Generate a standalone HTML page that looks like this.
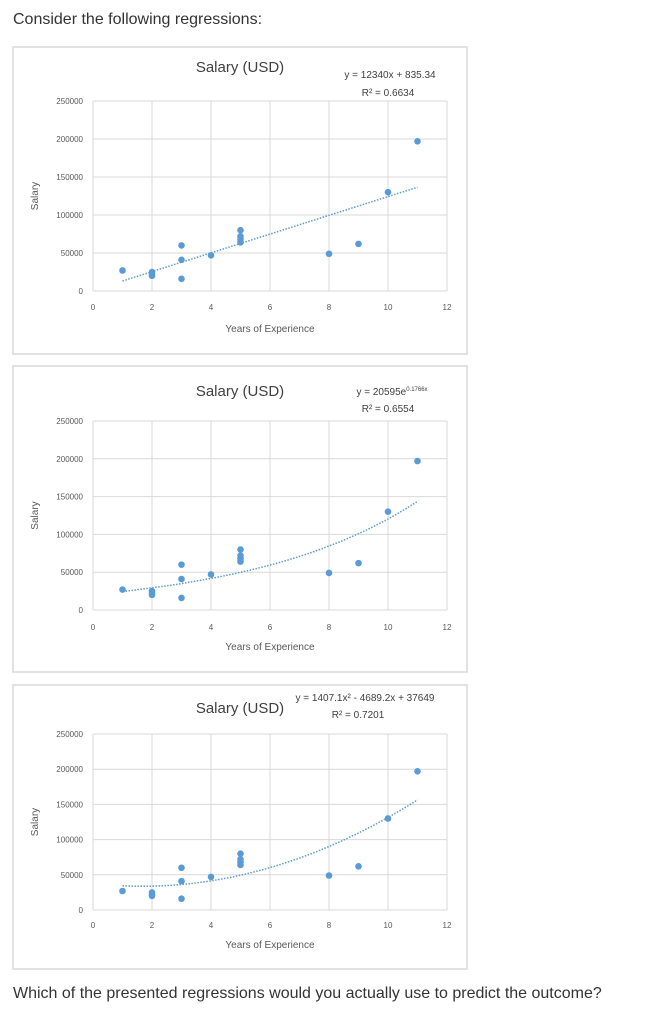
<!DOCTYPE html>
<html><head><meta charset="utf-8"><style>
body{margin:0;width:667px;height:1024px;background:#fff;font-family:"Liberation Sans",sans-serif;position:relative;overflow:hidden}
.q{position:absolute;left:13px;font-size:16px;color:#333}
svg{position:absolute;left:0;top:0}
</style></head><body>
<div class="q" style="top:11px">Consider the following regressions:</div>
<div class="q" style="top:985px">Which of the presented regressions would you actually use to predict the outcome?</div>
<svg id="s" width="667" height="1024"></svg>
<script>
const xs=[1,2,2,2,3,3,3,4,5,5,5,5,8,9,10,11];
const ys=[27000,25000,20000,22000,60000,41000,16000,47000,80000,72000,68000,64000,49000,62000,130000,197000];
const xTicks=[0,2,4,6,8,10,12];
const yTicks=[0,50000,100000,150000,200000,250000];
const linCoef=[12340,835.34];
const expCoef=[20595,0.1766];
const polyCoef=[1407.1,-4689.2,37649];
const charts=[
 {box:[13,47,454,307],y0:291,y1:101,title:72,eq1:"y = 12340x + 835.34",eq2:"R² = 0.6634",eqx:390,eqy:78,r2x:388,r2y:96,tick:310,xt:332,yl:38,kind:"lin"},
 {box:[13,366,454,306],y0:610,y1:421,title:396,eq1:"y = 20595e",sup:"0.1766x",eq2:"R² = 0.6554",eqx:392,eqy:395,r2x:388,r2y:412,tick:630,xt:650,yl:38,kind:"exp"},
 {box:[13,685,454,284],y0:910,y1:734,title:713,eq1:"y = 1407.1x² - 4689.2x + 37649",eq2:"R² = 0.7201",eqx:365,eqy:701,r2x:358,r2y:718,tick:928,xt:948,yl:38,kind:"poly"}
];
const s=document.getElementById('s');
const NS='http://www.w3.org/2000/svg';
function mk(t,a,txt){const e=document.createElementNS(NS,t);for(const k in a)e.setAttribute(k,a[k]);if(txt!==undefined)e.textContent=txt;s.appendChild(e);return e;}
const X0=93,X1=447;
charts.forEach((c,ci)=>{
 const sx=v=>X0+(v-0)/12*(X1-X0);
 const sy=v=>c.y0+(v/250000)*(c.y1-c.y0);
 const b=mk('rect',{x:c.box[0],y:c.box[1],width:c.box[2],height:c.box[3],fill:'#fff',stroke:'#d9d9d9','stroke-width':1.5});
 
 
 yTicks.forEach(v=>{const g=mk('line',{x1:X0,x2:X1,y1:sy(v),y2:sy(v),stroke:'#d9d9d9'});
  
  const t=mk('text',{x:X0-10,y:sy(v)+3,'font-size':8,fill:'#595959','text-anchor':'end'},String(v));
  });
 xTicks.forEach(v=>{const g=mk('line',{x1:sx(v),x2:sx(v),y1:c.y0,y2:c.y1,stroke:'#d9d9d9'});
  
  const t=mk('text',{x:sx(v),y:c.tick,'font-size':8,fill:'#595959','text-anchor':'middle'},String(v));
  });
 const tt=mk('text',{x:240,y:c.title,'font-size':15,fill:'#404040','text-anchor':'middle'},'Salary (USD)');
 
 const e1=mk('text',{x:c.eqx,y:c.eqy,'font-size':10,fill:'#404040','text-anchor':'middle'},c.eq1);
 if(c.sup){const ts=document.createElementNS(NS,'tspan');ts.setAttribute('font-size',6);ts.setAttribute('dy',-4);ts.textContent=c.sup;e1.appendChild(ts);}
 
 const e2=mk('text',{x:c.r2x,y:c.r2y,'font-size':10,fill:'#404040','text-anchor':'middle'},c.eq2);
 
 const xl=mk('text',{x:270,y:c.xt,'font-size':10,fill:'#595959','text-anchor':'middle'},'Years of Experience');
 
 const yl=mk('text',{x:c.yl,y:(c.y0+c.y1)/2,'font-size':10,fill:'#595959','text-anchor':'middle',transform:`rotate(-90 ${c.yl} ${(c.y0+c.y1)/2})`},'Salary');
 
 const f=x=>c.kind=='lin'?linCoef[0]*x+linCoef[1]:c.kind=='exp'?expCoef[0]*Math.exp(expCoef[1]*x):polyCoef[0]*x*x+polyCoef[1]*x+polyCoef[2];
 let d='';for(let i=0;i<=50;i++){const x=1+i*10/50;d+=(i?'L':'M')+sx(x).toFixed(1)+' '+sy(f(x)).toFixed(1);}
 const tl=mk('path',{d:d,fill:'none',stroke:'#5b9bd5','stroke-width':1.5,'stroke-dasharray':'1.5 1.5'});
 
 xs.forEach((x,i)=>{const p=mk('circle',{cx:sx(x),cy:sy(ys[i]),r:3.3,fill:'#5b9bd5'});
  });
});
</script>
</body></html>
